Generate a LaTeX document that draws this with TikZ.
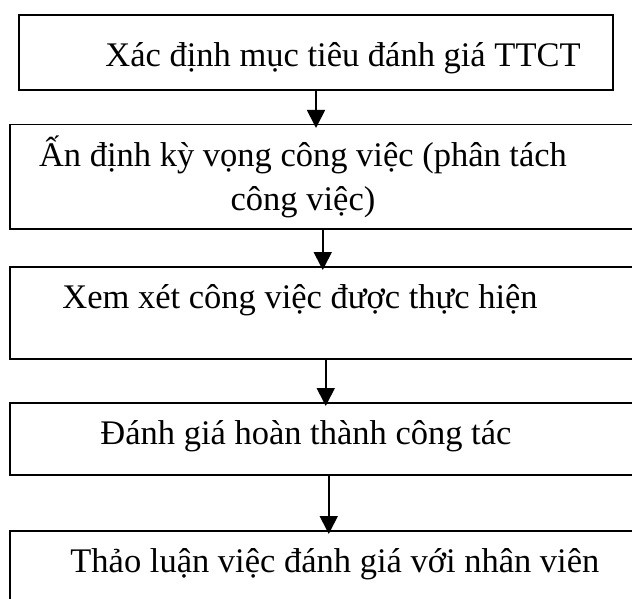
\documentclass[tikz,border=0pt]{standalone}
\usepackage{fontspec}
\setmainfont{Liberation Serif}
\usetikzlibrary{positioning,arrows.meta}
\tikzset{
    khung/.style={draw, line width=0.75pt, inner sep=0pt, anchor=north west},
    chu/.style={font=\fontsize{17.25pt}{22pt}\selectfont, inner sep=0pt},
    muiten/.style={-{Triangle[length=9pt,width=9pt]}, line width=0.85pt, shorten >=-2pt}
}

\begin{document}
\begin{tikzpicture}[x=0.5pt, y=-0.5pt]
    \useasboundingbox (0,0) rectangle (632,599);
    \clip (0,0) rectangle (632,599);
    % cac khung
    \node[khung, line width=1pt, minimum width=297pt, minimum height=37.5pt] (mucTieu) at (18,14) {};
    \node[khung, minimum width=313pt, minimum height=52pt] (kyVong) at (9,124) {};
    \node[khung, minimum width=313pt, minimum height=46pt] (xemXet) at (9,266) {};
    \node[khung, minimum width=313pt, minimum height=36pt] (danhGia) at (9,402) {};
    \node[khung, minimum width=313pt, minimum height=45pt] (thaoLuan) at (9,530) {};
    % chu trong khung
    \node[chu, anchor=base west] (mucTieu-chu) at (105,67) {Xác định mục tiêu đánh giá TTCT};
    \node[chu, anchor=base, text width=290pt, align=flush center] (kyVong-chu) at (303,167)
        {Ấn định kỳ vọng công việc (phân tách\\công việc)};
    \node[chu, anchor=base west] (xemXet-chu) at (62,308) {Xem xét công việc được thực hiện};
    \node[chu, anchor=base west] (danhGia-chu) at (100,444) {Đánh giá hoàn thành công tác};
    \node[chu, anchor=base west] (thaoLuan-chu) at (70,572) {Thảo luận việc đánh giá với nhân viên};
    % mui ten
    \draw[muiten] (mucTieu.south) -- (mucTieu.south |- kyVong.north);
    \draw[muiten] (kyVong.south) -- (xemXet.north);
    \draw[muiten] ([xshift=1.5pt]xemXet.south) -- ([xshift=1.5pt]danhGia.north);
    \draw[muiten] ([xshift=3pt]danhGia.south) -- ([xshift=3pt]thaoLuan.north);
\end{tikzpicture}
\end{document}
